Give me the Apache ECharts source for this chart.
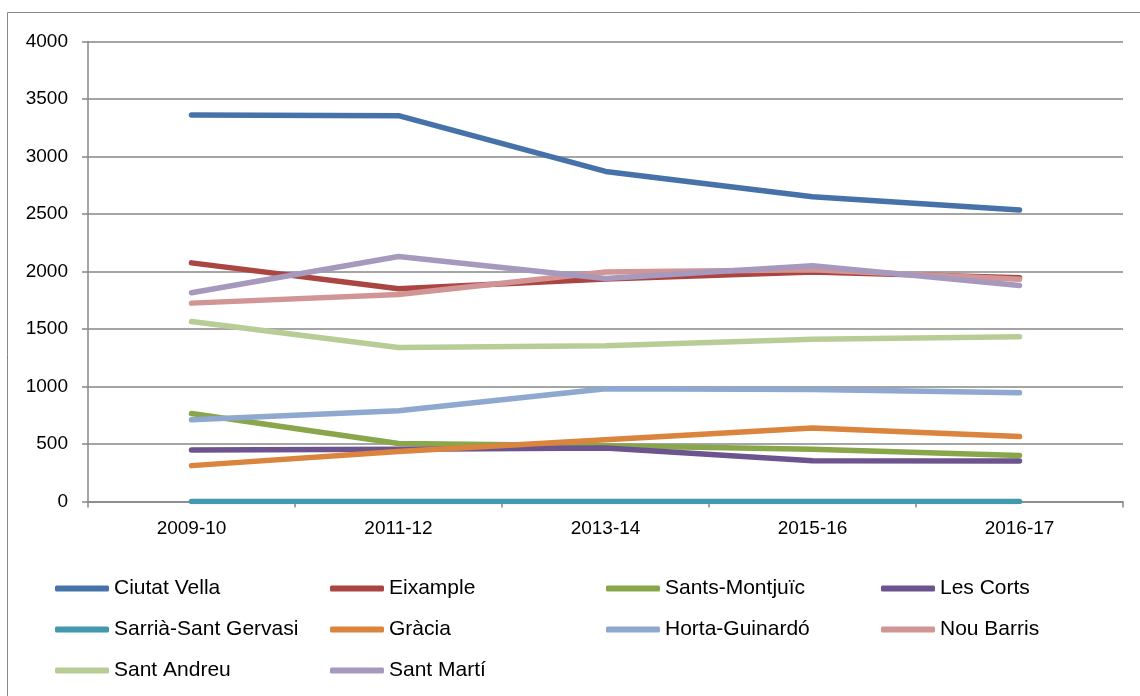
<!DOCTYPE html>
<html>
<head>
<meta charset="utf-8">
<script src="https://cdn.jsdelivr.net/npm/echarts@6/dist/echarts.min.js"></script>
<style>
  html, body { margin: 0; padding: 0; background: #fff; }
  #chart { width: 1140px; height: 696px; }
</style>
</head>
<body>
<div id="chart"></div>
<script>
  var years = ["2009-10", "2011-12", "2013-14", "2015-16", "2016-17"];

  var ciutatVella = [3360, 3355, 2870, 2650, 2535];
  var eixample = [2075, 1850, 1935, 1995, 1945];
  var santsMontjuic = [765, 505, 485, 455, 400];
  var lesCorts = [448, 455, 465, 355, 352];
  var sarriaSantGervasi = [0, 0, 0, 0, 0];
  var gracia = [312, 435, 538, 640, 565];
  var hortaGuinardo = [710, 790, 980, 975, 945];
  var nouBarris = [1725, 1800, 1995, 2015, 1933];
  var santAndreu = [1565, 1340, 1355, 1410, 1433];
  var santMarti = [1815, 2130, 1940, 2050, 1878];

  var yTicks = [0, 500, 1000, 1500, 2000, 2500, 3000, 3500, 4000];

  var districts = [
    ["Ciutat Vella", ciutatVella, "#4672a9"],
    ["Eixample", eixample, "#ab4542"],
    ["Sants-Montjuïc", santsMontjuic, "#89a64b"],
    ["Les Corts", lesCorts, "#6d548e"],
    ["Sarrià-Sant Gervasi", sarriaSantGervasi, "#4198af"],
    ["Gràcia", gracia, "#db843d"],
    ["Horta-Guinardó", hortaGuinardo, "#8fa8cf"],
    ["Nou Barris", nouBarris, "#d09594"],
    ["Sant Andreu", santAndreu, "#b8cd96"],
    ["Sant Martí", santMarti, "#a699bd"]
  ];

  // legend laid out as 4 columns, one legend per column
  var legendColumns = [
    ["Ciutat Vella", "Sarrià-Sant Gervasi", "Sant Andreu"],
    ["Eixample", "Gràcia", "Sant Martí"],
    ["Sants-Montjuïc", "Horta-Guinardó"],
    ["Les Corts", "Nou Barris"]
  ];
  var legendLefts = [55, 330, 606, 881];

  var gray = "#878787";
  var font = "Liberation Sans";

  var chart = echarts.init(document.getElementById("chart"));

  chart.setOption({
    animation: false,
    graphic: [{
      type: "rect",
      shape: { x: 7.5, y: 12.5, width: 1140, height: 700 },
      style: { fill: "none", stroke: gray, lineWidth: 1 },
      silent: true
    }],
    grid: {
      left: 88,
      right: 17,
      top: 41.5,
      bottom: 194.5
    },
    legend: legendColumns.map(function (col, i) {
      return {
        data: col,
        orient: "vertical",
        left: legendLefts[i],
        top: 578,
        padding: 0,
        itemWidth: 54,
        itemHeight: 6,
        itemGap: 20,
        icon: "roundRect",
        textStyle: {
          color: "#000",
          fontSize: 21,
          lineHeight: 21,
          fontFamily: font
        }
      };
    }),
    xAxis: {
      type: "category",
      data: years,
      boundaryGap: true,
      axisLine: { lineStyle: { color: gray, width: 1.5 } },
      axisTick: { show: true, length: 6, lineStyle: { color: gray, width: 1.5 } },
      axisLabel: {
        color: "#000",
        fontSize: 19,
        fontFamily: font,
        margin: 18
      },
      splitLine: { show: false }
    },
    yAxis: {
      type: "value",
      min: yTicks[0],
      max: yTicks[yTicks.length - 1],
      interval: 500,
      axisLine: { show: true, lineStyle: { color: gray, width: 1.5 } },
      axisTick: { show: true, length: 6, lineStyle: { color: gray, width: 1.5 } },
      axisLabel: {
        color: "#000",
        fontSize: 19,
        fontFamily: font,
        margin: 20,
        formatter: function (v) { return String(v); }
      },
      splitLine: { lineStyle: { color: gray, width: 1.5 } }
    },
    series: districts.map(function (d) {
      return {
        name: d[0],
        type: "line",
        data: d[1],
        symbol: "none",
        color: d[2],
        lineStyle: { width: 5.5, cap: "round", join: "round" }
      };
    })
  });
</script>
</body>
</html>
